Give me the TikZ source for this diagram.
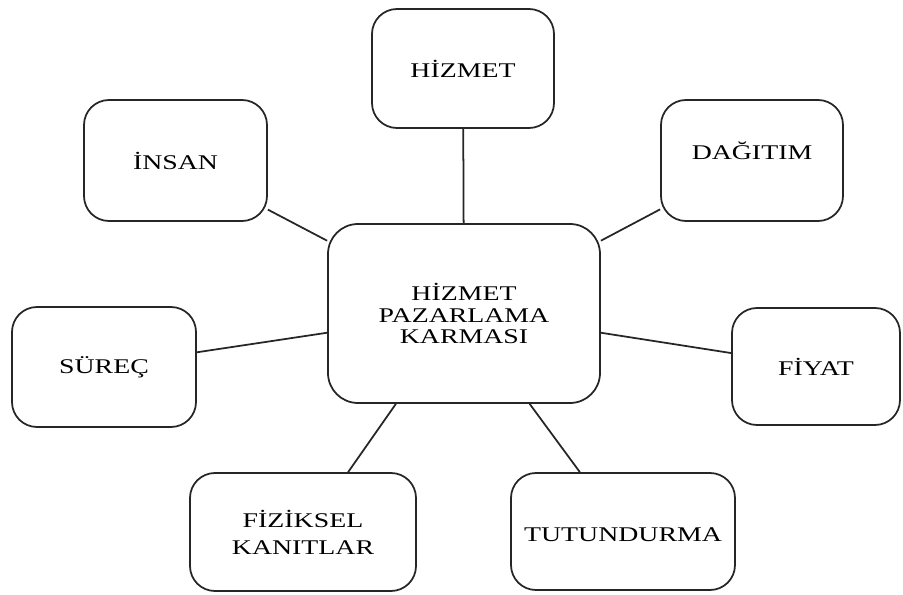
\documentclass[tikz,border=0pt]{standalone}
\usepackage{fontspec}
\setmainfont{Liberation Serif}[FakeStretch=1.33]

\begin{document}
\begin{tikzpicture}[line width=1pt, draw=black!85,
    box/.style={draw, rounded corners=0.5cm, minimum width=3.64cm, minimum height=2.4cm,
        inner sep=0pt, align=center, font=\fontsize{11.9pt}{12pt}\selectfont},
    mainbox/.style={box, rounded corners=0.6cm, minimum width=5.44cm, minimum height=3.58cm}]

    \useasboundingbox (0,0) rectangle (18.06,11.88);

    % Central node
    \node at (9.28, 5.61) (karma) [mainbox] {HİZMET\\PAZARLAMA\\KARMASI};

    % Nodes for the upper row
    \node at (3.51, 8.67) (insan) [box, minimum width=3.66cm, minimum height=2.42cm] {İNSAN};
    \node at (9.26, 10.51) (hizmet) [box, minimum height=2.38cm] {HİZMET};
    \node at (15.04, 8.67) (dagitim) [box, minimum height=2.42cm]
        {\raisebox{0.2cm}[\height][\depth]{DAĞITIM}};

    % Nodes for the middle row
    \node at (2.08, 4.54) (surec) [box, minimum width=3.68cm] {SÜREÇ};
    \node at (16.32, 4.55) (fiyat) [box, minimum width=3.36cm, minimum height=2.34cm] {FİYAT};

    % Nodes for the lower row
    \node at (6.06, 1.24) (fiziksel) [box, minimum width=4.52cm, minimum height=2.36cm]
        {FİZİKSEL\\[3.4pt]KANITLAR};
    \node at (12.46, 1.25) (tutundurma) [box, minimum width=4.48cm, minimum height=2.34cm]
        {\raisebox{-0.07cm}[\height][\depth]{TUTUNDURMA}};

    % Lines to the central node
    \draw (insan.-28) -- (karma.152);
    \draw (hizmet) -- (karma);
    \draw (dagitim.208) -- (karma.28);
    \draw (surec.9) -- (karma.188.4);
    \draw (fiyat.171) -- (karma.-8.4);
    \draw (fiziksel.53) -- (karma.233);
    \draw (tutundurma.126) -- (karma.-54);

\end{tikzpicture}
\end{document}
